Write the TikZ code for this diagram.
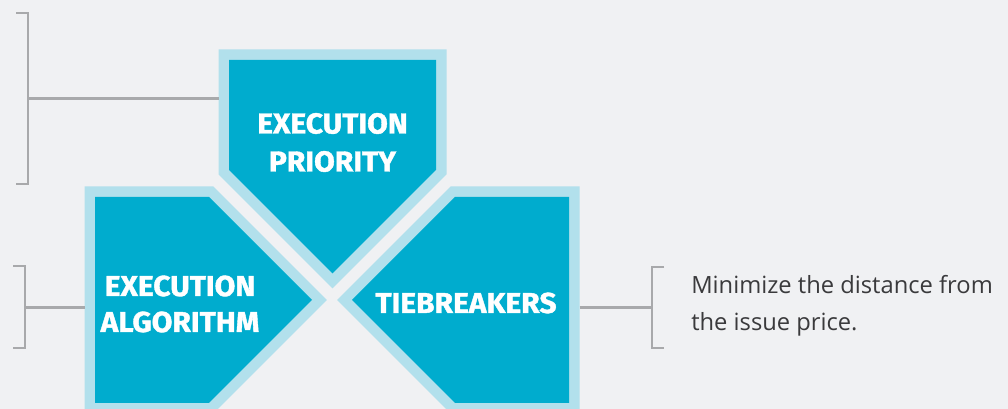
\documentclass[tikz,border=0pt]{standalone}
\usepackage{fontspec}
\newfontfamily\labelfont{Fira Sans}[BoldFeatures={FakeBold=1.3,FakeStretch=1.04}]
\newfontfamily\bodyfont{Open Sans}
\definecolor{bgcol}{RGB}{240,241,243}
\definecolor{corecol}{RGB}{0,172,206}
\definecolor{rimcol}{RGB}{178,224,236}
\definecolor{brackcol}{RGB}{168,169,171}
\definecolor{txtcol}{RGB}{58,58,60}
\begin{document}
\begin{tikzpicture}[x=0.75pt,y=-0.75pt,
  rim/.style={draw=rimcol,line width=15.75pt,line join=miter},
  core/.style={fill=corecol},
  brack/.style={draw=brackcol,line width=1.9pt,line join=miter},
  lbl/.style={text=white,font=\labelfont\bfseries\fontsize{21.6}{28.5}\selectfont,align=center,inner sep=0pt},
  body/.style={text=txtcol,font=\bodyfont\fontsize{17.8}{27.75}\selectfont,align=left,inner sep=0pt}]
\useasboundingbox (0,0) rectangle (1008,409);
\fill[bgcol] (0,0) rectangle (1008,409);
% top shape
\draw[rim] (229,60) -- (436,60) -- (436,170) -- (332.5,273.5) -- (229,170) -- cycle;
\fill[core] (229,60) -- (436,60) -- (436,170) -- (332.5,273.5) -- (229,170) -- cycle;
% left shape
\draw[rim] (95,197) -- (209,197) -- (312,300) -- (209,403) -- (95,403) -- cycle;
\fill[core] (95,197) -- (209,197) -- (312,300) -- (209,403) -- (95,403) -- cycle;
% right shape
\draw[rim] (569,197) -- (455,197) -- (352,300) -- (455,403) -- (569,403) -- cycle;
\fill[core] (569,197) -- (455,197) -- (352,300) -- (455,403) -- (569,403) -- cycle;
% anchor points on the shapes' outer edges
\coordinate (prio-w) at (218.5,98.5);
\coordinate (algo-w) at (84.5,307.5);
\coordinate (tie-e) at (579.5,307.5);
% labels
\node[lbl] (prio) at (332.5,142.5) {EXECUTION\\PRIORITY};
\node[lbl,font=\labelfont\bfseries\fontsize{21.6}{27}\selectfont] (algo) at (180,304) {EXECUTION\\ALGORITHM};
\node[lbl] (tie) at (466,303) {TIEBREAKERS};
\node[body,anchor=west] (desc) at (691,306) {Minimize the distance from\\the issue price.};
% brackets
\coordinate (b1) at (28,98.5);
\draw[brack] (16,13) -- (28,13) -- (28,184) -- (16,184);
\draw[brack] (b1) -- (prio-w);
\coordinate (b2) at (25,307.5);
\draw[brack] (13,266) -- (25,266) -- (25,348) -- (13,348);
\draw[brack] (b2) -- (algo-w);
\coordinate (b3) at (652,307.5);
\draw[brack] (664,267) -- (652,267) -- (652,348) -- (664,348);
\draw[brack] (tie-e) -- (b3);
\end{tikzpicture}
\end{document}
